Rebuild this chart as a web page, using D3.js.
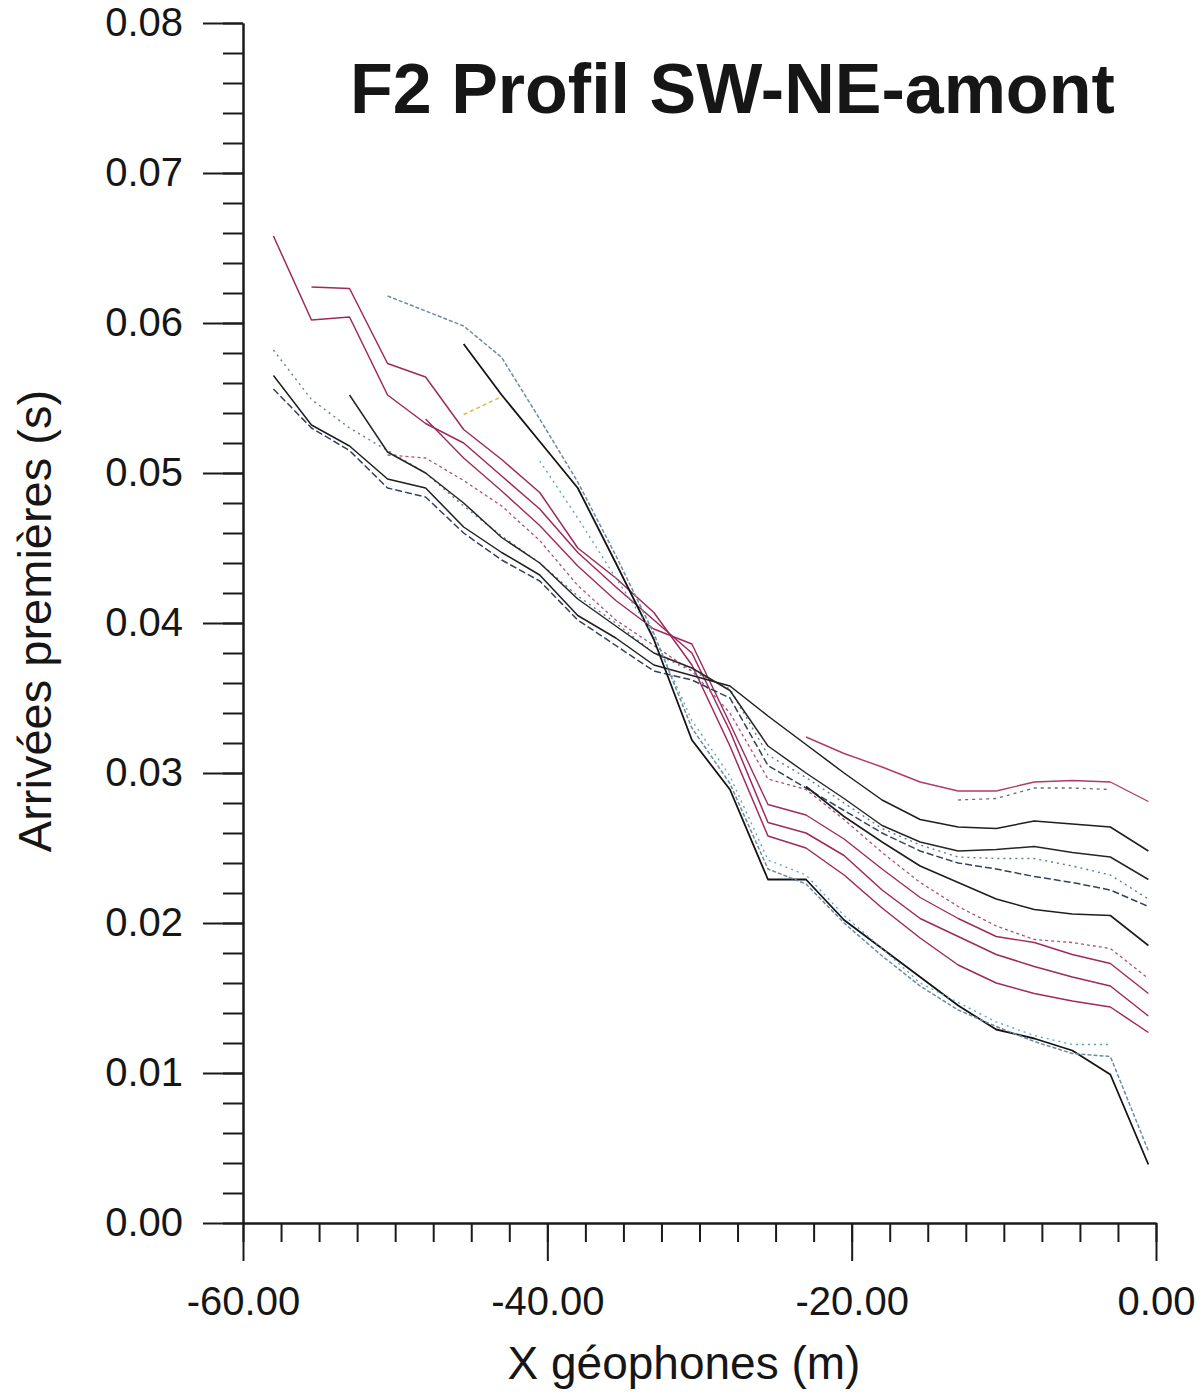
<!DOCTYPE html>
<html>
<head>
<meta charset="utf-8">
<script src="https://cdn.jsdelivr.net/npm/d3@7"></script>
<style>
  body { margin: 0; background: #fff; }
  text { font-family: "Liberation Sans", Arial, sans-serif; fill: #161616; }
</style>
</head>
<body>
<div id="chart"></div>
<script>
// geophone positions (m)
var geophones = [-58, -55.5, -53, -50.5, -48, -45.5, -43, -40.5, -38, -35.5, -33, -30.5,
                 -28, -25.5, -23, -20.5, -18, -15.5, -13, -10.5, -8, -5.5, -3, -0.5];

// first arrivals (s), one array per shot, null = no pick
var shotA = [.0658, .0602, .0604, .0552, .0533, .0520, .0498, .0476, .0447, .0424, .0402, .0380,
             .0328, .0267, .0260, .0245, .0222, .0203, .0191, .0179, .0171, .0164, .0158, .0138];
var shotB = [null, .0624, .0623, .0573, .0564, .0529, .0509, .0487, .0450, .0430, .0407, .0372,
             .0318, .0258, .0250, .0232, .0210, .0190, .0172, .0160, .0153, .0148, .0144, .0127];
var shotC = [null, null, null, null, .0536, .0510, .0488, .0465, .0438, .0415, .0396, .0386,
             .0333, .0279, .0272, .0256, .0236, .0217, .0203, .0191, .0187, .0179, .0173, .0153];
var shotD = [null, null, null, .0512, .0510, .0495, .0478, .0455, .0425, .0402, .0385, .0368,
             .0340, .0296, .0289, .0269, .0247, .0227, .0211, .0198, .0189, .0187, .0183, .0163];
var shotE = [.0582, .0549, .0530, .0515, .0500, .0478, .0458, .0440, .0418, .0400, .0380, .0368,
             .0356, .0312, .0297, .0280, .0263, .0252, .0244, .0243, .0243, .0238, .0232, .0216];
var shotF = [.0565, .0532, .0518, .0496, .0490, .0464, .0447, .0432, .0405, .0390, .0372, .0365,
             .0358, .0338, .0319, .0300, .0282, .0269, .0264, .0263, .0268, .0266, .0264, .0248];
var shotG = [null, null, .0552, .0514, .0500, .0480, .0457, .0440, .0416, .0398, .0380, .0370,
             .0355, .0318, .0300, .0283, .0265, .0254, .0248, .0249, .0251, .0247, .0244, .0229];
var shotH = [.0556, .0530, .0515, .0490, .0484, .0460, .0442, .0428, .0402, .0385, .0368, .0362,
             .0350, .0305, .0290, .0275, .0260, .0248, .0240, .0236, .0231, .0227, .0222, .0211];
var shotS1 = [null, null, null, null, null, .0586, .0552, .0521, .0490, .0440, .0389, .0322,
              .0289, .0229, .0229, .0202, .0183, .0164, .0145, .0129, .0123, .0115, .0099, .0039];
var shotS2 = [null, null, null, .0618, .0608, .0598, .0577, .0536, .0494, .0445, .0393, .0330,
              .0293, .0236, .0226, .0200, .0178, .0158, .0142, .0131, .0121, .0113, .0111, .0048];
var shotS3 = [null, null, null, null, null, null, null, .0508, .0470, .0430, .0392, .0335,
              .0298, .0242, .0232, .0205, .0183, .0160, .0147, .0134, .0125, .0119, .0119, null];
var shotR1 = [null, null, null, null, null, null, null, null, null, null, null, null,
              null, null, .0324, .0313, .0304, .0294, .0288, .0288, .0294, .0295, .0294, .0281];
var shotR6 = [null, null, null, null, null, null, null, null, null, null, null, null,
              null, null, .0291, .0271, .0254, .0238, .0227, .0216, .0209, .0206, .0205, .0185];
var shotK = [null, null, null, null, null, null, null, null, null, null, null, null,
             null, null, null, null, null, null, .0282, .0283, .0290, .0290, .0289, null];
var shotY = [null, null, null, null, null, .0539, .0551, null, null, null, null, null,
             null, null, null, null, null, null, null, null, null, null, null, null];

var shots = [shotA, shotB, shotC, shotD, shotE, shotF, shotG, shotH,
             shotS1, shotS2, shotS3, shotR1, shotR6, shotK, shotY];

// ticks
var yMajor = [0, 0.01, 0.02, 0.03, 0.04, 0.05, 0.06, 0.07, 0.08];
var xMajor = [-60, -40, -20, 0];
var yMinor = d3.range(0, 81, 2).map(function(d) { return d / 1000; });
var xMinor = d3.range(-60, 0.1, 2.5);

var titleText = "F2 Profil SW-NE-amont";
var xTitle = "X géophones (m)";
var yTitle = "Arrivées premières (s)";

// line looks, same order as shots
var magenta = '#9e2a5c';
var looks = [
  {c: magenta, w: 1.5, dash: null},
  {c: magenta, w: 1.5, dash: null},
  {c: magenta, w: 1.4, dash: null},
  {c: '#b0507a', w: 1.3, dash: '3,3'},
  {c: '#5f7d92', w: 1.4, dash: '2,4'},
  {c: '#1e1e1e', w: 1.5, dash: null},
  {c: '#262626', w: 1.5, dash: null},
  {c: '#34405e', w: 1.5, dash: '7,3'},
  {c: '#141414', w: 1.8, dash: null},
  {c: '#6f8aa2', w: 1.5, dash: '4,2'},
  {c: '#5aa0c0', w: 1.3, dash: '2,4'},
  {c: '#b03a6a', w: 1.4, dash: null},
  {c: '#1e1e1e', w: 1.6, dash: null},
  {c: '#6a6a6a', w: 1.3, dash: '3,4'},
  {c: '#c9c040', w: 1.4, dash: '4,3'}
];

var width = 1201, height = 1396;
var plotLeft = 243, plotRight = 1156, plotTop = 23, plotBottom = 1223;

var svg = d3.select('#chart').append('svg')
  .attr('width', width)
  .attr('height', height);

var x = d3.scaleLinear().domain([-60, 0]).range([plotLeft, plotRight]);
var y = d3.scaleLinear().domain([0, 0.08]).range([plotBottom, plotTop]);

// plain hyphen, two decimals, like the original plot
var fmt = function(d) { return d.toFixed(2); };

// minor ticks first, majors on top
svg.append('g')
  .attr('transform', 'translate(' + plotLeft + ',0)')
  .call(d3.axisLeft(y).tickValues(yMinor).tickSize(20).tickSizeOuter(0).tickFormat(''))
  .call(styleAxis);
svg.append('g')
  .attr('transform', 'translate(0,' + plotBottom + ')')
  .call(d3.axisBottom(x).tickValues(xMinor).tickSize(19).tickSizeOuter(0).tickFormat(''))
  .call(styleAxis);

svg.append('g')
  .attr('transform', 'translate(' + plotLeft + ',0)')
  .call(d3.axisLeft(y).tickValues(yMajor).tickSize(40).tickSizeOuter(0).tickPadding(20)
        .tickFormat(fmt))
  .call(styleAxis);
svg.append('g')
  .attr('transform', 'translate(0,' + plotBottom + ')')
  .call(d3.axisBottom(x).tickValues(xMajor).tickSize(38).tickSizeOuter(0).tickPadding(26)
        .tickFormat(fmt))
  .call(styleAxis);

function styleAxis(g) {
  g.select('.domain').attr('stroke', '#1a1a1a').attr('stroke-width', 2);
  g.selectAll('.tick line').attr('stroke', '#1a1a1a').attr('stroke-width', 2);
  g.selectAll('.tick text')
    .attr('font-size', 40)
    .attr('font-family', '"Liberation Sans", Arial, sans-serif')
    .attr('fill', '#161616');
}

// arrival curves
var line = d3.line()
  .defined(function(d) { return d.v != null; })
  .x(function(d) { return x(d.g); })
  .y(function(d) { return y(d.v); });

shots.forEach(function(vals, i) {
  var pts = geophones.map(function(g, j) { return {g: g, v: vals[j]}; });
  var look = looks[i];
  svg.append('path')
    .datum(pts)
    .attr('fill', 'none')
    .attr('stroke', look.c)
    .attr('stroke-width', look.w)
    .attr('stroke-dasharray', look.dash)
    .attr('stroke-linejoin', 'round')
    .attr('d', line);
});

// titles
svg.append('text')
  .attr('x', 350)
  .attr('y', 113)
  .attr('font-size', 70)
  .attr('font-weight', 'bold')
  .attr('fill', '#1c1c1c')
  .text(titleText);

svg.append('text')
  .attr('x', 684)
  .attr('y', 1379)
  .attr('text-anchor', 'middle')
  .attr('font-size', 46)
  .text(xTitle);

svg.append('text')
  .attr('transform', 'translate(51,621) rotate(-90)')
  .attr('text-anchor', 'middle')
  .attr('font-size', 47)
  .text(yTitle);
</script>
</body>
</html>
